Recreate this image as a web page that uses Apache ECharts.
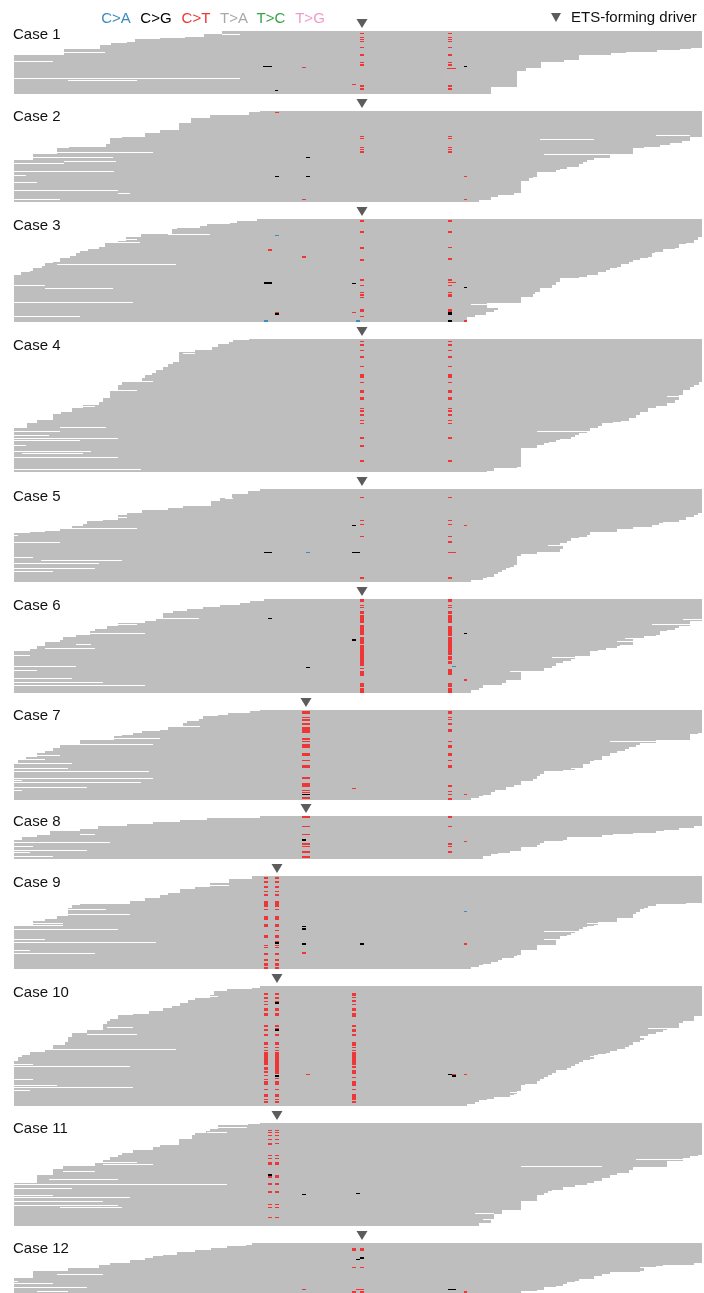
<!DOCTYPE html>
<html>
<head>
<meta charset="utf-8">
<title>ETS-forming driver reads</title>
<script src="https://cdn.jsdelivr.net/npm/echarts@6/dist/echarts.min.js"></script>
<style>
  html, body { margin: 0; padding: 0; background: #fff; }
  #chart { width: 704px; height: 1293px; }
</style>
</head>
<body>
<div id="chart"></div>
<script>
// ---- data ----
const caseNames = ['Case 1', 'Case 2', 'Case 3', 'Case 4', 'Case 5', 'Case 6',
  'Case 7', 'Case 8', 'Case 9', 'Case 10', 'Case 11', 'Case 12'];
const readRows = [63, 91, 103, 133, 93, 94, 90, 43, 93, 120, 103, 50];
const driverPos = [362, 362, 362, 362, 362, 362, 306, 306, 277, 277, 277, 362];

const mutTypes = ['C>A', 'C>G', 'C>T', 'T>A', 'T>C', 'T>G'];
const mutColors = { 'C>A': '#3a8cc1', 'C>G': '#000000', 'C>T': '#ef3636', 'T>A': '#a9a9a9', 'T>C': '#38a348', 'T>G': '#ee9dc9' };

// read start (left edge) per row: [row, position]; read end (right edge) per row
const left1 = [[0,222],[3,204],[6,185],[7,160],[8,135],[11,127],[12,111],[14,100],[18,64],[24,14]];
const right1 = [[0,702],[17,691],[18,680],[19,657],[21,626],[22,611],[24,579],[29,564],[31,541],[37,526],[40,517],[56,491]];
const gaps1 = [[3,222,240],[21,64,105],[30,14,53],[47,14,240],[49,68,137]];
const cols1 = [[360,4,[[2,1],[6,1],[8,1],[10,1],[16,1],[23,2],[31,1],[33,2],[54,2],[57,2]]],
  [448,4,[[2,1],[6,1],[8,1],[10,1],[16,1],[23,2],[31,1],[33,2],[54,2],[57,2]]]];
const muts1 = [[37,447,9,1,'C>T'],[35,464,3,1,'C>G'],[35,263,9,1,'C>G'],[36,302,4,1,'C>T'],[59,275,3,1,'C>G'],[53,352,4,1,'C>T']];

const left2 = [[0,260],[1,249],[4,210],[7,191],[12,179],[19,160],[22,145],[26,122],[27,110],[33,106],[36,69],[37,57],[43,33],[49,14]];
const right2 = [[0,702],[26,690],[30,682],[32,670],[34,660],[36,644],[37,633],[44,610],[47,594],[49,587],[51,583],[53,579],[56,567],[58,560],[59,556],[61,537],[66,533],[67,529],[70,521],[82,514],[84,498],[86,491],[89,479]];
const gaps2 = [[24,656,690],[28,540,594],[41,57,153],[43,544,633],[46,33,113],[50,64,116],[52,14,64],[60,14,114],[64,14,26],[71,14,37],[79,14,118],[82,118,130],[88,14,60]];
const cols2 = [[360,4,[[25,1],[27,1],[36,1],[38,1],[40,2]]], [448,4,[[25,1],[27,1],[36,1],[38,1],[40,2]]]];
const muts2 = [[65,464,3,1,'C>T'],[88,464,3,1,'C>T'],[1,275,4,1,'C>T'],[46,306,4,1,'C>G'],[65,275,4,1,'C>G'],[65,306,4,1,'C>G'],[88,302,4,1,'C>T']];

const left3 = [[0,257],[2,237],[4,230],[5,207],[7,200],[9,177],[10,172],[15,141],[18,126],[22,118],[24,105],[28,99],[30,88],[32,80],[34,76],[37,70],[39,60],[43,53],[44,45],[47,42],[49,33],[52,30],[53,21],[56,14]];
const right3 = [[0,702],[18,698],[21,694],[24,686],[25,679],[29,675],[30,663],[33,655],[34,652],[38,648],[39,640],[41,633],[43,629],[45,621],[48,617],[49,610],[51,606],[53,598],[56,587],[58,579],[59,560],[63,556],[66,552],[69,540],[73,535],[75,533],[78,521],[84,487],[89,498],[91,494],[93,486],[96,475],[98,467]];
const gaps3 = [[15,168,210],[20,126,137],[23,118,140],[45,57,176],[66,14,45],[69,45,113],[83,14,133],[85,471,487],[97,14,80]];
const cols3 = [[360,4,[[1,2],[12,2],[28,2],[40,2],[60,2],[66,1],[73,1],[75,2],[78,1],[90,3],[97,1]]],
  [448,4,[[1,2],[12,2],[28,1],[39,2],[60,2],[66,1],[73,1],[75,2],[77,1],[90,3]]]];
const muts3 = [[63,448,8,1,'C>T'],[93,448,4,3,'C>G'],[101,448,4,2,'C>G'],[64,352,4,1,'C>G'],[93,352,4,1,'C>T'],[68,464,3,1,'C>G'],
  [101,464,3,2,'C>T'],[16,275,4,1,'C>A'],[30,268,4,2,'C>T'],[37,302,4,2,'C>T'],[63,264,8,2,'C>G'],[93,275,4,1,'C>T'],
  [94,275,4,2,'C>G'],[101,264,4,2,'C>A'],[101,356,4,2,'C>A']];

const left4 = [[0,249],[1,233],[3,229],[5,218],[8,212],[11,195],[13,179],[23,173],[25,168],[28,163],[31,156],[34,152],[36,145],[39,142],[43,122],[46,118],[52,110],[59,103],[63,99],[66,83],[69,72],[73,61],[75,53],[81,37],[84,27],[89,14]];
const right4 = [[0,702],[43,699],[46,694],[48,690],[51,683],[56,679],[61,675],[64,667],[67,656],[69,648],[73,640],[76,636],[79,629],[82,621],[83,613],[84,602],[87,598],[89,590],[92,587],[94,579],[96,575],[98,571],[100,560],[101,556],[103,549],[104,544],[106,537],[109,521],[128,517],[129,494],[132,487]];
const gaps4 = [[14,183,195],[42,140,153],[51,118,137],[57,667,679],[67,83,95],[88,60,106],[92,14,60],[92,537,587],[96,14,49],[99,14,118],[101,14,80],[106,14,26],[112,14,91],[114,22,83],[118,14,118],[130,14,141]];
const cols4 = [[360,4,[[2,1],[5,2],[11,1],[17,2],[27,1],[35,4],[43,1],[51,3],[58,3],[69,1],[71,2],[75,2],[81,1],[84,1],[98,2],[106,2],[121,2]]],
  [448,4,[[2,1],[5,2],[11,1],[17,2],[27,1],[35,4],[43,1],[51,3],[58,3],[69,1],[71,2],[75,2],[81,1],[84,1],[98,2],[121,2]]]];
const muts4 = [];

const left5 = [[0,260],[2,248],[5,232],[9,220],[12,211],[17,183],[19,168],[21,142],[24,127],[26,118],[31,103],[32,87],[35,83],[37,72],[40,60],[42,45],[43,30],[44,14]];
const right5 = [[0,702],[24,698],[26,694],[28,686],[31,679],[33,663],[34,659],[36,652],[38,633],[40,617],[43,590],[46,587],[48,579],[49,571],[52,567],[54,560],[57,563],[60,560],[63,537],[65,521],[67,517],[76,514],[78,510],[79,506],[81,502],[83,498],[85,494],[88,487],[89,483],[91,471]];
const gaps5 = [[5,227,232],[9,225,233],[28,113,127],[39,72,137],[46,14,18],[53,14,60],[56,548,560],[68,14,33],[71,41,122],[74,14,99],[79,14,95],[82,14,53]];
const cols5 = [[360,4,[[8,1],[31,1],[35,1],[47,1],[88,2]]], [448,4,[[8,1],[31,1],[35,1],[47,1],[52,2],[88,2]]]];
const muts5 = [[63,448,8,1,'C>T'],[36,352,4,1,'C>G'],[36,464,3,1,'C>T'],[63,352,8,1,'C>G'],[63,264,8,1,'C>G'],[63,306,4,1,'C>A']];

const left6 = [[0,264],[2,250],[4,240],[6,220],[8,203],[10,187],[12,173],[14,163],[20,156],[22,145],[24,118],[27,107],[30,95],[32,90],[36,76],[38,63],[41,60],[43,45],[47,37],[50,30],[52,14]];
const right6 = [[0,702],[22,690],[27,679],[29,675],[31,667],[32,660],[36,656],[37,644],[39,625],[40,633],[46,620],[47,617],[49,606],[51,598],[52,590],[57,575],[60,571],[62,563],[64,556],[67,552],[69,544],[72,521],[81,506],[84,502],[86,483],[89,479],[91,471]];
const gaps6 = [[19,157,199],[20,683,702],[25,118,137],[25,652,690],[34,90,145],[42,617,633],[45,76,91],[49,45,95],[56,14,30],[58,552,575],[67,14,76],[71,14,37],[72,510,521],[79,14,72],[83,14,103],[86,14,145]];
const cols6 = [[360,4,[[0,3],[6,1],[8,1],[12,3],[16,8],[26,10],[38,7],[46,21],[69,1],[72,5],[84,4],[89,5]]],
  [448,4,[[0,3],[6,1],[8,1],[12,3],[16,8],[27,10],[38,18],[57,4],[62,3],[70,6],[84,4],[89,5]]]];
const muts6 = [[40,352,4,2,'C>G'],[34,464,3,1,'C>G'],[67,452,4,1,'C>A'],[80,464,3,2,'C>T'],[19,268,4,1,'C>G'],[68,306,4,1,'C>G']];

const left7 = [[0,260],[1,250],[3,228],[5,218],[6,203],[9,199],[11,187],[13,183],[17,168],[20,160],[21,142],[23,133],[25,122],[26,114],[30,80],[35,60],[38,53],[41,45],[43,37],[47,26],[50,18],[53,14]];
const right7 = [[0,702],[23,698],[25,690],[30,656],[33,640],[35,636],[37,629],[39,625],[41,617],[43,610],[46,602],[50,594],[51,590],[54,583],[58,575],[60,563],[61,544],[64,540],[66,537],[69,533],[71,521],[75,514],[77,506],[80,495],[82,491],[85,483],[86,479],[88,471]];
const gaps7 = [[16,183,200],[24,690,702],[28,114,160],[31,610,656],[34,80,153],[45,37,60],[49,26,45],[53,14,72],[58,14,68],[58,571,583],[61,14,149],[68,14,153],[70,14,22],[72,14,141],[77,14,87],[80,14,22]];
const cols7 = [[302,8,[[1,3],[7,1],[9,2],[13,2],[17,6],[28,2],[31,1],[34,4],[43,3],[50,1],[55,3],[67,2],[73,2],[75,2],[80,1],[82,1],[87,2]]],
  [448,4,[[1,3],[7,1],[9,1],[13,2],[19,3],[31,1],[35,3],[43,3],[50,1],[55,3],[75,2],[81,1],[84,1],[88,2]]]];
const muts7 = [[84,302,8,1,'C>G'],[78,352,4,1,'C>T'],[84,464,3,1,'C>T']];

const left8 = [[0,260],[2,207],[4,180],[6,153],[8,127],[10,98],[13,80],[15,50],[19,37],[21,22],[24,14]];
const right8 = [[0,702],[10,694],[12,679],[14,664],[15,656],[17,633],[18,613],[19,602],[21,567],[24,563],[25,544],[27,540],[29,537],[31,521],[35,510],[37,498],[38,491],[40,483]];
const gaps8 = [[18,80,95],[26,14,110],[30,14,33],[34,14,87],[36,14,30],[40,14,53]];
const cols8 = [[302,8,[[0,2],[10,1],[18,1],[27,2],[30,1],[35,2],[40,2]]], [448,4,[[0,2],[10,1],[27,2],[30,1],[35,2]]]];
const muts8 = [[23,302,4,2,'C>G'],[25,464,3,1,'C>T']];

const left9 = [[0,252],[3,229],[7,210],[11,195],[13,180],[17,168],[19,160],[22,145],[25,130],[28,80],[29,72],[32,68],[40,57],[43,45],[45,33],[49,14]];
const right9 = [[0,702],[27,686],[28,656],[30,648],[32,644],[33,640],[36,636],[38,633],[42,617],[46,598],[49,594],[50,587],[51,583],[53,579],[55,575],[57,571],[59,567],[60,560],[64,556],[69,537],[74,521],[79,517],[80,514],[82,502],[84,498],[86,491],[88,483],[89,479],[91,471]];
const gaps9 = [[9,210,229],[33,68,106],[38,68,130],[47,33,63],[47,587,598],[49,14,63],[53,14,118],[55,544,575],[63,14,45],[63,544,560],[66,14,156],[69,544,556],[74,14,30],[77,14,95]];
const cols9 = [[264,4,[[1,2],[5,2],[10,2],[15,1],[18,2],[25,6],[33,1],[40,4],[48,3],[59,3],[69,1],[71,1],[77,2],[83,2],[87,3],[91,2]]],
  [275,4,[[1,2],[5,2],[10,2],[15,1],[18,2],[25,6],[33,1],[40,4],[48,3],[54,1],[59,3],[65,1],[69,1],[71,1],[77,2],[83,2],[87,3],[91,2]]]];
const muts9 = [[66,275,4,2,'C>G'],[50,302,4,1,'C>G'],[52,302,4,2,'C>G'],[67,302,4,2,'C>G'],[76,302,4,2,'C>T'],[35,464,3,1,'C>A'],[67,360,4,2,'C>G'],[67,464,3,2,'C>T']];

const left10 = [[0,260],[2,252],[3,227],[5,214],[9,210],[12,195],[14,188],[17,180],[20,172],[22,163],[25,149],[28,133],[29,118],[33,110],[35,107],[38,103],[44,87],[47,72],[51,68],[56,65],[59,53],[64,45],[66,30],[69,22],[71,18],[75,14]];
const right10 = [[0,702],[30,694],[35,683],[37,679],[42,667],[44,663],[46,656],[48,648],[50,640],[52,644],[54,640],[56,633],[59,629],[61,625],[63,617],[65,610],[67,606],[68,598],[69,594],[73,590],[74,583],[76,579],[78,575],[80,571],[82,567],[84,556],[87,552],[89,548],[91,544],[93,540],[95,537],[98,525],[99,521],[105,517],[108,514],[109,510],[111,494],[113,487],[114,479],[116,475],[118,467]];
const gaps10 = [[10,200,218],[41,107,133],[42,648,679],[48,87,137],[63,53,176],[70,590,598],[78,14,33],[80,14,130],[93,14,33],[99,14,57],[101,14,133],[104,14,30],[106,510,521]];
const cols10 = [[264,4,[[7,2],[11,2],[15,1],[18,1],[22,3],[27,3],[39,2],[43,2],[48,2],[56,3],[61,1],[64,1],[66,13],[81,3],[85,2],[89,1],[93,1],[95,4],[103,1],[108,3],[113,1],[115,2]]],
  [275,4,[[7,2],[11,2],[15,3],[22,3],[27,3],[39,2],[42,3],[48,2],[56,3],[61,1],[64,1],[66,22],[92,1],[95,4],[103,1],[108,3],[113,1],[115,2]]],
  [352,4,[[7,3],[11,1],[14,2],[18,1],[22,3],[27,4],[39,2],[43,3],[48,2],[56,4],[61,1],[64,1],[66,13],[80,2],[84,4],[91,1],[95,5],[103,1],[108,6],[115,2]]]];
const muts10 = [[16,275,4,2,'C>G'],[43,275,4,2,'C>G'],[89,275,4,2,'C>G'],[88,448,4,1,'C>G'],[89,452,4,2,'C>G'],[88,452,4,1,'C>T'],[88,464,3,1,'C>T'],[88,306,4,1,'C>T']];

const left11 = [[0,260],[1,248],[2,218],[6,210],[8,206],[10,195],[12,192],[16,179],[22,160],[24,153],[27,133],[30,122],[32,118],[34,110],[37,103],[39,95],[43,63],[46,53],[52,37],[60,14]];
const right11 = [[0,702],[32,698],[33,690],[35,683],[38,667],[44,633],[47,629],[50,617],[52,610],[55,602],[58,594],[60,587],[62,575],[64,563],[67,552],[68,548],[70,544],[72,537],[78,521],[87,502],[91,494],[96,491],[100,479]];
const gaps11 = [[4,217,247],[9,207,227],[36,636,683],[39,95,137],[41,103,153],[43,521,602],[48,63,95],[56,49,118],[61,14,227],[65,14,72],[72,14,53],[74,14,130],[78,14,103],[82,14,118],[84,60,122],[90,475,494],[96,483,491]];
const cols11 = [[268,4,[[7,1],[9,1],[12,1],[16,1],[20,2],[32,1],[35,1],[39,3],[53,2],[60,2],[68,2],[81,1],[84,1],[94,1]]],
  [275,4,[[7,1],[9,1],[12,1],[16,1],[20,1],[32,1],[35,1],[39,3],[52,3],[60,2],[68,2],[81,1],[84,1],[94,1]]]];
const muts11 = [[51,268,4,2,'C>G'],[71,302,4,1,'C>G'],[70,356,4,1,'C>G']];

const left12 = [[0,252],[2,246],[3,227],[5,211],[7,195],[9,177],[12,163],[13,153],[15,145],[17,130],[20,110],[22,99],[25,68],[28,33],[35,14]];
const right12 = [[0,702],[20,694],[22,663],[23,656],[25,644],[28,640],[29,610],[31,602],[33,594],[36,579],[38,575],[39,567],[41,563],[43,556],[44,544],[47,537],[48,521]];
const gaps12 = [[24,640,663],[31,57,103],[38,14,18],[40,14,53],[44,14,87],[48,37,68]];
const cols12 = [[352,4,[[5,3],[24,1],[48,2]]], [360,4,[[5,3],[24,1],[48,2]]]];
const muts12 = [[14,360,4,2,'C>G'],[16,356,4,1,'C>G'],[46,356,8,1,'C>T'],[46,448,8,1,'C>G'],[48,464,3,2,'C>T'],[46,302,4,1,'C>T']];

const leftEdges = [left1, left2, left3, left4, left5, left6, left7, left8, left9, left10, left11, left12];
const rightEdges = [right1, right2, right3, right4, right5, right6, right7, right8, right9, right10, right11, right12];
const gapLists = [gaps1, gaps2, gaps3, gaps4, gaps5, gaps6, gaps7, gaps8, gaps9, gaps10, gaps11, gaps12];
const colLists = [cols1, cols2, cols3, cols4, cols5, cols6, cols7, cols8, cols9, cols10, cols11, cols12];
const mutLists = [muts1, muts2, muts3, muts4, muts5, muts6, muts7, muts8, muts9, muts10, muts11, muts12];

// ---- layout ----
const caseTop = [31, 111, 219, 339, 489, 599, 710, 816, 876, 986, 1123, 1243];
const labelY = [35, 117, 226, 346, 497, 606, 716, 822, 883, 993, 1129, 1249];
const FONT = '"Liberation Sans", Arial, Helvetica, sans-serif';
const readColor = '#bebebe';
const driverColor = '#5c5c5c';

function stepAt(steps, row) {
  let v = steps[0][1];
  for (const s of steps) {
    if (s[0] <= row) v = s[1];
  }
  return v;
}

function buildReads(i) {
  const rows = [];
  for (let r = 0; r < readRows[i]; r++) {
    rows.push([r, stepAt(leftEdges[i], r), stepAt(rightEdges[i], r)]);
  }
  return rows;
}

// column marks are C>T; other marks carry their own type
function buildMarks(i) {
  const out = [];
  colLists[i].forEach(([x, w, list]) => {
    list.forEach(([row, h]) => out.push([row, x, w, h, 'C>T']));
  });
  mutLists[i].forEach(m => out.push(m));
  return out;
}
const markData = caseNames.map((_, i) => buildMarks(i));

function rectItem(color) {
  return function (params, api) {
    const p0 = api.coord([api.value(1), api.value(0)]);
    const p1 = api.coord([api.value(2), api.value(0) + 1]);
    return {
      type: 'rect',
      shape: { x: p0[0], y: p0[1], width: p1[0] - p0[0], height: p1[1] - p0[1] },
      style: { fill: color }
    };
  };
}

const grids = [], xAxes = [], yAxes = [], series = [];
caseNames.forEach((name, i) => {
  grids.push({ left: 14, right: 2, top: caseTop[i], height: readRows[i] });
  xAxes.push({ gridIndex: i, type: 'value', min: 14, max: 702, show: false });
  yAxes.push({ gridIndex: i, type: 'value', min: 0, max: readRows[i], inverse: true, show: false });

  series.push({
    name: name + ' reads', type: 'custom', xAxisIndex: i, yAxisIndex: i,
    dimensions: ['row', 'start', 'end'], encode: { x: [1, 2], y: 0 },
    renderItem: rectItem(readColor), data: buildReads(i), silent: true
  });
  series.push({
    name: name + ' gaps', type: 'custom', xAxisIndex: i, yAxisIndex: i,
    dimensions: ['row', 'start', 'end'], encode: { x: [1, 2], y: 0 },
    renderItem: rectItem('#ffffff'), data: gapLists[i], silent: true
  });
  series.push({
    name: name + ' mutations', type: 'custom', xAxisIndex: i, yAxisIndex: i,
    encode: { x: 1, y: 0 },
    renderItem: function (params, api) {
      const m = markData[i][params.dataIndex];
      const p0 = api.coord([m[1], m[0]]);
      const p1 = api.coord([m[1] + m[2], m[0] + m[3]]);
      return {
        type: 'rect',
        shape: { x: p0[0], y: p0[1], width: p1[0] - p0[0], height: p1[1] - p0[1] },
        style: { fill: mutColors[m[4]] }
      };
    },
    data: markData[i].map(m => [m[0], m[1], m[2], m[3]]), silent: true
  });
  series.push({
    name: name + ' driver', type: 'custom', xAxisIndex: i, yAxisIndex: i, clip: false,
    renderItem: function (params, api) {
      const p = api.coord([api.value(0), 0]);
      return {
        type: 'polygon',
        shape: { points: [[p[0] - 5.5, p[1] - 12], [p[0] + 5.5, p[1] - 12], [p[0], p[1] - 3]] },
        style: { fill: driverColor }
      };
    },
    data: [[driverPos[i], 0]], silent: true
  });
});

const legendX = [116, 156, 196, 234, 271, 310];
const graphics = [];
mutTypes.forEach((t, k) => {
  graphics.push({
    type: 'text', x: legendX[k], y: 19,
    style: { text: t, fill: mutColors[t], font: '15px ' + FONT, align: 'center', verticalAlign: 'middle' }
  });
});
graphics.push({
  type: 'polygon',
  shape: { points: [[551, 13], [561, 13], [556, 22]] },
  style: { fill: driverColor }
});
graphics.push({
  type: 'text', x: 571, y: 18,
  style: { text: 'ETS-forming driver', fill: '#111', font: '15px ' + FONT, align: 'left', verticalAlign: 'middle' }
});
caseNames.forEach((name, i) => {
  graphics.push({
    type: 'text', x: 13, y: labelY[i],
    style: { text: name, fill: '#111', font: '15px ' + FONT, align: 'left', verticalAlign: 'middle' }
  });
});

const chart = echarts.init(document.getElementById('chart'));
chart.setOption({
  animation: false,
  backgroundColor: '#ffffff',
  grid: grids,
  xAxis: xAxes,
  yAxis: yAxes,
  series: series,
  graphic: graphics
});
</script>
</body>
</html>
